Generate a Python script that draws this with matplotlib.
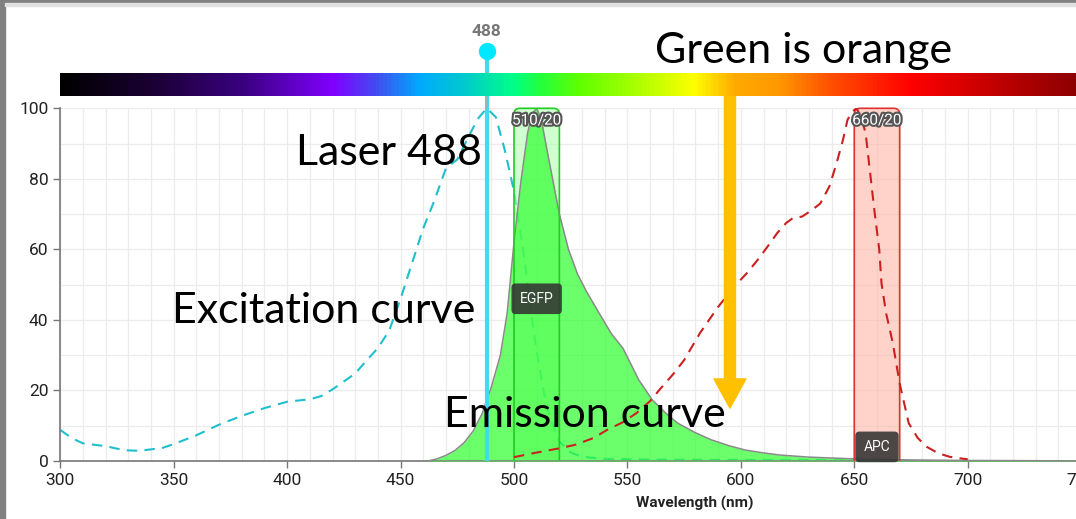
import matplotlib
matplotlib.use("Agg")
import matplotlib.pyplot as plt
import matplotlib.patheffects as pe
from matplotlib.patches import FancyBboxPatch, FancyArrowPatch, Rectangle
from matplotlib.colors import LinearSegmentedColormap
import numpy as np

# --- data ---
exc_nm = [300, 305, 310, 315, 320, 325, 330, 335, 340, 345, 350, 360, 370, 380, 390, 400,
          410, 415, 420, 430, 435, 440, 445, 450, 455, 460, 465, 470, 475, 480, 484, 488,
          492, 496, 500, 502, 504, 506, 508, 510, 513, 516, 520, 525, 530, 540, 560, 600,
          640, 680]
exc_val = [8.8, 6.5, 5.0, 4.6, 4.2, 3.5, 3.0, 2.9, 3.3, 3.7, 4.8, 7.3, 10.3, 12.8, 15.0, 16.8,
           17.5, 18.4, 20.3, 24.8, 28.5, 32.0, 37.0, 46.0, 56.0, 66.0, 74.0, 83.0, 85.5, 92.0,
           97.0, 100.0, 97.5, 88.0, 76.5, 68.0, 60.0, 50.0, 40.0, 31.0, 20.0, 12.0, 5.5, 2.4,
           1.2, 0.6, 0.4, 0.3, 0.2, 0.0]

em_nm = [462, 466, 470, 474, 478, 482, 486, 490, 494, 497, 500, 503, 506, 508, 510, 512,
         514, 517, 520, 524, 528, 532, 537, 543, 548, 555, 561, 567, 572, 580, 587, 595,
         602, 610, 617, 630, 650, 675, 700, 750]
em_val = [0.0, 0.6, 1.6, 3.0, 5.2, 8.5, 13.5, 21.0, 30.0, 42.0, 62.0, 79.0, 93.0, 98.5, 100.0, 97.0,
          90.0, 80.0, 70.0, 60.0, 53.0, 48.0, 42.5, 36.0, 32.0, 23.0, 17.3, 13.5, 10.8, 8.0, 6.0, 4.3,
          3.1, 2.3, 1.7, 1.1, 0.6, 0.3, 0.15, 0.05]

apc_nm = [500, 510, 520, 527, 535, 541, 548, 554, 560, 564, 570, 575, 582, 590, 597, 603,
          608, 612, 616, 620, 623, 627, 631, 635, 639, 642, 645, 647, 649, 651, 653, 655,
          657, 659, 661, 662, 664, 667, 670, 674, 678, 682, 687, 692, 696, 700]
apc_val = [1.1, 2.4, 3.6, 4.6, 6.5, 8.8, 11.0, 13.6, 17.0, 20.1, 24.5, 28.6, 36.3, 43.7, 49.4, 53.5,
           57.5, 61.0, 64.6, 67.5, 68.9, 69.3, 71.0, 73.0, 77.8, 84.0, 91.0, 96.7, 99.0, 100.0, 97.5, 93.0,
           81.6, 70.3, 60.0, 50.4, 42.0, 33.4, 22.0, 10.7, 6.5, 4.0, 2.2, 1.2, 0.8, 0.5]

filters = [(500, 520, "510/20"), (650, 670, "660/20")]
filter_fill = ["#aaffaa", "#ffb0a0"]
filter_edge = ["#22cc22", "#dd3333"]
dye_labels = [("EGFP", 510, 46), ("APC", 660, 4)]
laser_nm = 488

spectrum_nm = [300, 340, 380, 420, 440, 458, 477, 500, 511, 529, 551, 580, 598, 617, 640, 676, 714, 750]
spectrum_col = ["#000000", "#1a0033", "#3a0080", "#8000ff", "#4050f0", "#00aaff", "#00c8d0",
                "#00ff88", "#20ff40", "#60ff00", "#a0ff00", "#ffff00", "#ffaa00", "#ff9900",
                "#ff5000", "#ff0000", "#c00000", "#8b0000"]

x_ticks = [300, 350, 400, 450, 500, 550, 600, 650, 700, 750]
y_ticks = [0, 20, 40, 60, 80, 100]

W, H = 1076, 519
fig = plt.figure(figsize=(W / 100, H / 100), dpi=100)
fig.patch.set_facecolor("white")

# axes placement in pixels
left_px, bottom_px, top_px = 60.3, 461, 108.3
px_per_nm = 2.2685
ax = fig.add_axes([left_px / W, (H - bottom_px) / H,
                   450 * px_per_nm / W, (bottom_px - top_px) / H])
ax.set_xlim(300, 750)
ax.set_ylim(0, 100)

tick_font = ["Roboto", "DejaVu Sans"]
ax.set_xticks(x_ticks)
ax.set_yticks(y_ticks)
ax.set_xticks(np.arange(300, 751, 10), minor=True)
ax.set_yticks(np.arange(0, 101, 10), minor=True)
ax.grid(which="both", color="#ececec", linewidth=0.9)
ax.set_axisbelow(True)
for lab in ax.get_xticklabels() + ax.get_yticklabels():
    lab.set_family(tick_font)
    lab.set_fontsize(12.5)
    lab.set_color("#222222")
ax.tick_params(which="major", length=5, color="#777777", width=1)
ax.tick_params(which="minor", length=0)
for s in ["top", "right"]:
    ax.spines[s].set_visible(False)
for s in ["left", "bottom"]:
    ax.spines[s].set_color("#777777")
    ax.spines[s].set_linewidth(1.2)
fig.text(695 / W, 1 - 503 / H, "Wavelength (nm)", ha="center", va="center",
         fontsize=11, fontweight="bold", family=tick_font, color="#222222")

clip_rect = Rectangle((300, 0), 450, 120, transform=ax.transData)

# excitation curve (under the emission fill)
ax.plot(exc_nm, exc_val, color="#1fbfcc", lw=1.5, dashes=(5, 3.5), zorder=2)

# filter bands
for (lo, hi, name), fc, ec in zip(filters, filter_fill, filter_edge):
    box = FancyBboxPatch((lo, -10), hi - lo, 110, boxstyle="round,pad=0,rounding_size=2.6",
                         mutation_aspect=0.65, facecolor=fc, edgecolor="none", alpha=0.55, zorder=2.5)
    ax.add_patch(box)
    box.set_clip_path(clip_rect)

# emission fill
ax.fill_between(em_nm, em_val, color="#33ff33", alpha=0.72, lw=0, zorder=3)
ax.plot(em_nm, em_val, color="#8a8a8a", lw=1.1, zorder=3.2)
ax.plot([462, 750], [0, 0], color="#8a8a8a", lw=1.1, zorder=3.2)

for (lo, hi, name), fc, ec in zip(filters, filter_fill, filter_edge):
    edge = FancyBboxPatch((lo, -10), hi - lo, 110, boxstyle="round,pad=0,rounding_size=2.6",
                          mutation_aspect=0.65, facecolor="none", edgecolor=ec, lw=1.2, zorder=3.5)
    ax.add_patch(edge)
    edge.set_clip_path(clip_rect)
    ax.text((lo + hi) / 2, 96.5, name, ha="center", va="center", fontsize=11, color="white",
            family=tick_font, zorder=6,
            path_effects=[pe.withStroke(linewidth=3, foreground="#555555")])

# APC curve
ax.plot(apc_nm, apc_val, color="#cc1f1f", lw=1.5, dashes=(5, 3.5), zorder=4)

# dye labels
for name, xv, yv in dye_labels:
    ax.text(xv, yv, name, ha="center", va="center", fontsize=10, color="white", zorder=7,
            family=tick_font,
            bbox=dict(boxstyle="round,pad=0.6,rounding_size=0.3", fc="#333333", ec="none", alpha=0.88))

# spectrum bar
bar_ax = fig.add_axes([left_px / W, 1 - 96 / H, 450 * px_per_nm / W, 23 / H])
cmap = LinearSegmentedColormap.from_list(
    "spec", [((v - 300) / 450, c) for v, c in zip(spectrum_nm, spectrum_col)])
bar_ax.imshow(np.linspace(0, 1, 900)[None, :], cmap=cmap, aspect="auto", extent=[300, 750, 0, 1])
bar_ax.set_xlim(300, 750)
bar_ax.axis("off")

# laser line, drawn over both axes in data coords of main axes
ax.plot([laser_nm, laser_nm], [0, 116], color="#3fdcec", lw=3, zorder=5, clip_on=False,
        solid_capstyle="butt")
ax.plot([laser_nm, laser_nm], [100, 110], color="#aaaaaa", lw=1.2, zorder=5.5, clip_on=False)
ax.plot([laser_nm], [116.2], marker="o", ms=12.5, color="#00e8ff", mec="none", zorder=6, clip_on=False)
ax.text(laser_nm, 121.8, str(laser_nm), ha="center", va="center", fontsize=12.5, fontweight="bold",
        color="#777777", family=tick_font)

# orange arrow
arrow = FancyArrowPatch((595.2, 104.8), (595.2, 15.0),
                        arrowstyle="simple,head_length=21,head_width=23,tail_width=8",
                        color="#ffc000", shrinkA=0, shrinkB=0, zorder=8, clip_on=False)
ax.add_patch(arrow)

# slide annotations
big = dict(fontsize=31, family=["Lato", "DejaVu Sans"], color="black", zorder=9)
ax.text(562.2, 112.8, "Green is orange", ha="left", va="baseline", **big)
ax.text(403.9, 83.9, "Laser 488", ha="left", va="baseline", **big)
ax.text(349.2, 39.1, "Excitation curve", ha="left", va="baseline", **big)
ax.text(469.1, 9.6, "Emission curve", ha="left", va="baseline", **big)

# slide frame at top-left
fig.patches.append(Rectangle((0, 0), 5 / W, 1, transform=fig.transFigure, color="#808080", zorder=10))
fig.patches.append(Rectangle((0, 1 - 2.5 / H), 1, 2.5 / H, transform=fig.transFigure, color="#808080", zorder=10))
fig.patches.append(Rectangle((5 / W, 1 - 6 / H), 1, 3.5 / H, transform=fig.transFigure, color="#e0e0e0", zorder=10))

fig.savefig("out.png", dpi=100)
